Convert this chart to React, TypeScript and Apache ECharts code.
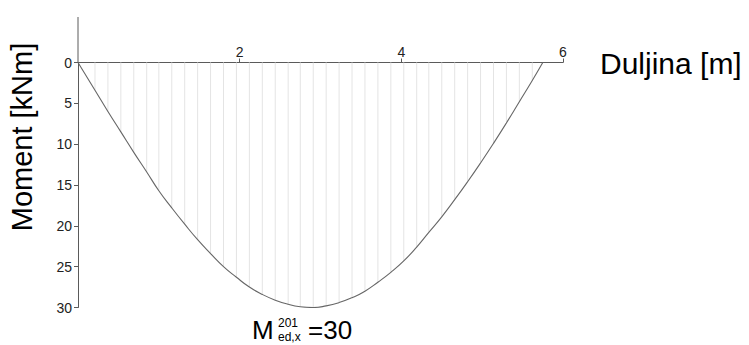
import React, { useEffect, useRef } from "react";
import * as echarts from "echarts";

// Span positions (m) and bending moment values (kNm)
const positions = [0, 0.21, 0.37, 0.53, 0.69, 0.85, 1.0, 1.16, 1.32, 1.48, 1.64, 1.8, 1.96, 2.12, 2.28, 2.44, 2.6, 2.75, 2.91, 3.07, 3.23, 3.39, 3.55, 3.71, 3.87, 4.03, 4.19, 4.34, 4.5, 4.66, 4.82, 4.98, 5.14, 5.3, 5.46, 5.62, 5.75];
const moments = [0, 3.4, 6.0, 8.5, 11.0, 13.4, 15.7, 17.8, 19.8, 21.7, 23.4, 25.0, 26.3, 27.5, 28.4, 29.1, 29.6, 29.9, 30.0, 29.8, 29.4, 28.8, 28.0, 26.9, 25.7, 24.3, 22.6, 20.8, 18.9, 16.8, 14.6, 12.3, 9.9, 7.4, 4.8, 2.2, 0];
const yTickValues = [0, 5, 10, 15, 20, 25, 30];
const xTickValues = [2, 4, 6];
const yTitle = "Moment [kNm]";
const xTitle = "Duljina [m]";
const maxLabel = { main: "M", sup: "201", sub: "ed,x", value: "=30" };

const FONT = "'Liberation Sans', Arial, Helvetica, sans-serif";
const AXIS = "#5a5a5a";

export default function App() {
  const ref = useRef<HTMLDivElement>(null);
  useEffect(() => {
    if (!ref.current) return;
    const chart = echarts.init(ref.current, undefined, { renderer: "svg" });
    const curve = positions.map((x, i) => [x, moments[i]]);
    const hatch = positions.slice(1, -1).map((x, i) => [x, moments[i + 1]]);
    chart.setOption({
      animation: false,
      backgroundColor: "#fff",
      grid: { left: 78, right: 186, top: 62.5, bottom: 37.5, containLabel: false },
      xAxis: {
        type: "value",
        position: "top",
        min: 0,
        max: 6,
        splitLine: { show: false },
        axisLine: { onZero: false, lineStyle: { color: AXIS, width: 1 } },
        axisTick: { show: true, length: 4, lineStyle: { color: AXIS }, customValues: xTickValues },
        axisLabel: {
          customValues: xTickValues,
          margin: 4,
          fontSize: 14,
          color: "#222",
          fontFamily: FONT,
        },
      },
      yAxis: {
        type: "value",
        inverse: true,
        min: 0,
        max: 30,
        splitLine: { show: false },
        axisLine: { onZero: false, lineStyle: { color: AXIS, width: 1 } },
        axisTick: { show: true, length: 4, lineStyle: { color: AXIS }, customValues: yTickValues },
        axisLabel: {
          customValues: yTickValues,
          margin: 6,
          fontSize: 14,
          color: "#222",
          fontFamily: FONT,
        },
      },
      series: [
        {
          type: "bar",
          data: hatch,
          barWidth: 1,
          itemStyle: { color: "#e4e4e4" },
          silent: true,
          z: 1,
        },
        {
          type: "line",
          data: curve,
          smooth: 0.5,
          showSymbol: false,
          lineStyle: { color: "#666", width: 1.1 },
          z: 3,
        },
      ],
      graphic: [
        {
          type: "line",
          shape: { x1: 78, y1: 17, x2: 78, y2: 62.5 },
          style: { stroke: AXIS, lineWidth: 1 },
        },
        {
          type: "text",
          x: 22,
          y: 137,
          rotation: Math.PI / 2,
          style: { text: yTitle, fontSize: 29, fontFamily: FONT, fill: "#000", align: "center", verticalAlign: "middle" },
        },
        {
          type: "text",
          x: 600,
          y: 63,
          style: { text: xTitle, fontSize: 30, fontFamily: FONT, fill: "#000", align: "left", verticalAlign: "middle" },
        },
        {
          type: "text",
          x: 252,
          y: 343,
          style: { text: maxLabel.main, fontSize: 26, fontFamily: FONT, fill: "#000", align: "left", verticalAlign: "bottom" },
        },
        {
          type: "text",
          x: 278,
          y: 323,
          style: { text: maxLabel.sup, fontSize: 12, fontFamily: FONT, fill: "#000", align: "left", verticalAlign: "middle" },
        },
        {
          type: "text",
          x: 278,
          y: 336.5,
          style: { text: maxLabel.sub, fontSize: 12, fontFamily: FONT, fill: "#000", align: "left", verticalAlign: "middle" },
        },
        {
          type: "text",
          x: 308,
          y: 343,
          style: { text: maxLabel.value, fontSize: 26, fontFamily: FONT, fill: "#000", align: "left", verticalAlign: "bottom" },
        },
      ],
    });
    return () => chart.dispose();
  }, []);
  return (
    <div
      ref={ref}
      style={{ position: "absolute", left: 0, top: 0, width: 749, height: 345 }}
    />
  );
}
